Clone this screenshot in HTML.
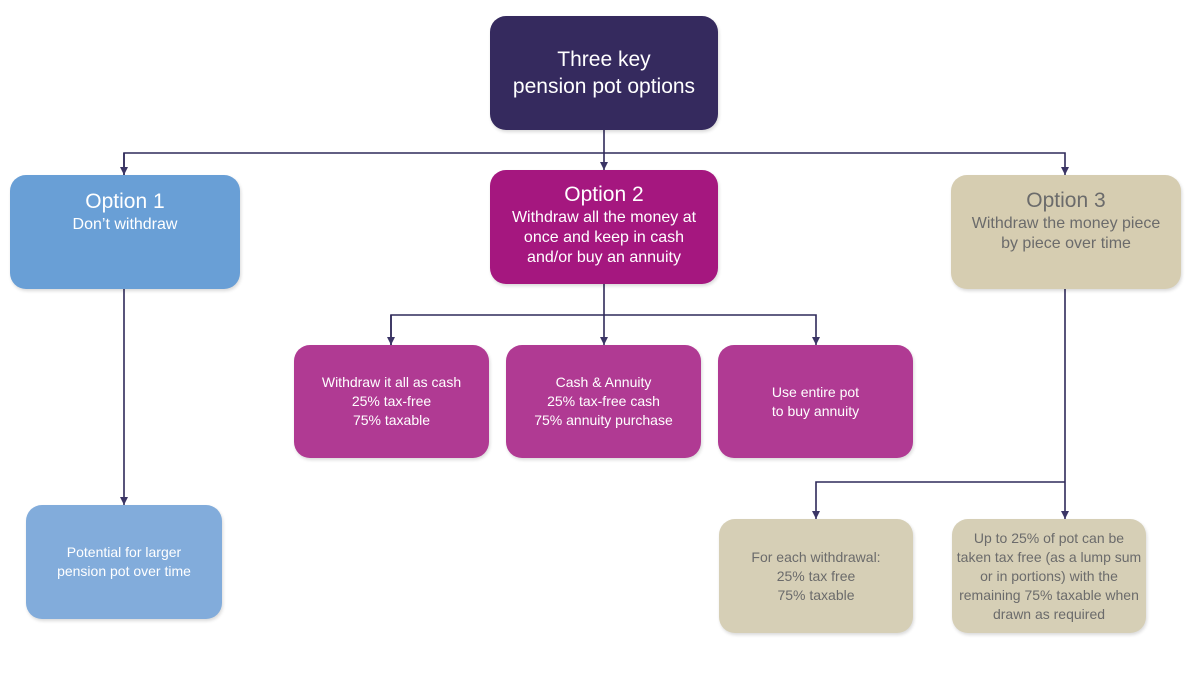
<!DOCTYPE html>
<html><head><meta charset="utf-8"><style>
body{margin:0;width:1200px;height:676px;background:#fff;position:relative;overflow:hidden;font-family:"Liberation Sans",sans-serif}
.b{position:absolute;border-radius:16px;display:flex;flex-direction:column;align-items:center;text-align:center;color:#fff;box-sizing:border-box;box-shadow:1px 2px 3px rgba(0,0,0,.15)}
.c{justify-content:center}
.h{font-size:21px;line-height:26px}
.s{font-size:16px;line-height:20px}
.t{font-size:14px;line-height:19px}
</style></head><body>
<svg width="1200" height="676" style="position:absolute;left:0;top:0">
<defs><marker id="a" markerWidth="8" markerHeight="8" refX="8" refY="4" orient="auto" markerUnits="userSpaceOnUse"><path d="M0,0 L8,4 L0,8z" fill="#3b3566"/></marker></defs>
<g stroke="#2f2a5a" stroke-width="1.6" fill="none">
<line x1="604" y1="130" x2="604" y2="170" marker-end="url(#a)"/>
<polyline points="124,175 124,153 1065,153 1065,175" marker-end="url(#a)"/>
<line x1="124" y1="153" x2="124" y2="175" marker-end="url(#a)"/>
<line x1="604" y1="284" x2="604" y2="345" marker-end="url(#a)"/>
<polyline points="391,345 391,315 816,315 816,345" marker-end="url(#a)"/>
<line x1="391" y1="315" x2="391" y2="345" marker-end="url(#a)"/>
<line x1="124" y1="289" x2="124" y2="505" marker-end="url(#a)"/>
<line x1="1065" y1="289" x2="1065" y2="519" marker-end="url(#a)"/>
<polyline points="1065,482 816,482 816,519" marker-end="url(#a)"/>
</g></svg>
<div class="b c" style="left:490px;top:16px;width:228px;height:114px;background:#352a5e;font-size:21px;line-height:27px">Three key<br>pension pot options</div>
<div class="b" style="left:10px;top:175px;width:230px;height:114px;background:#699fd6;padding-top:14px"><div class="h">Option 1</div><div class="s">Don’t withdraw</div></div>
<div class="b" style="left:490px;top:170px;width:228px;height:114px;background:#a5177f;padding-top:12px"><div class="h">Option 2</div><div class="s">Withdraw all the money at<br>once and keep in cash<br>and/or buy an annuity</div></div>
<div class="b" style="left:951px;top:175px;width:230px;height:114px;background:#d6cdb1;color:#6b6b6b;padding-top:13px"><div class="h">Option 3</div><div class="s">Withdraw the money piece<br>by piece over time</div></div>
<div class="b c t" style="left:294px;top:345px;width:195px;height:113px;background:#b03a93">Withdraw it all as cash<br>25% tax-free<br>75% taxable</div>
<div class="b c t" style="left:506px;top:345px;width:195px;height:113px;background:#b03a93">Cash &amp; Annuity<br>25% tax-free cash<br>75% annuity purchase</div>
<div class="b c t" style="left:718px;top:345px;width:195px;height:113px;background:#b03a93">Use entire pot<br>to buy annuity</div>
<div class="b c t" style="left:26px;top:505px;width:196px;height:114px;background:#82acdb">Potential for larger<br>pension pot over time</div>
<div class="b c t" style="left:719px;top:519px;width:194px;height:114px;background:#d6cfb6;color:#6b6b6b">For each withdrawal:<br>25% tax free<br>75% taxable</div>
<div class="b c t" style="left:952px;top:519px;width:194px;height:114px;background:#d6cfb6;color:#6b6b6b">Up to 25% of pot can be<br>taken tax free (as a lump sum<br>or in portions) with the<br>remaining 75% taxable when<br>drawn as required</div>
</body></html>
